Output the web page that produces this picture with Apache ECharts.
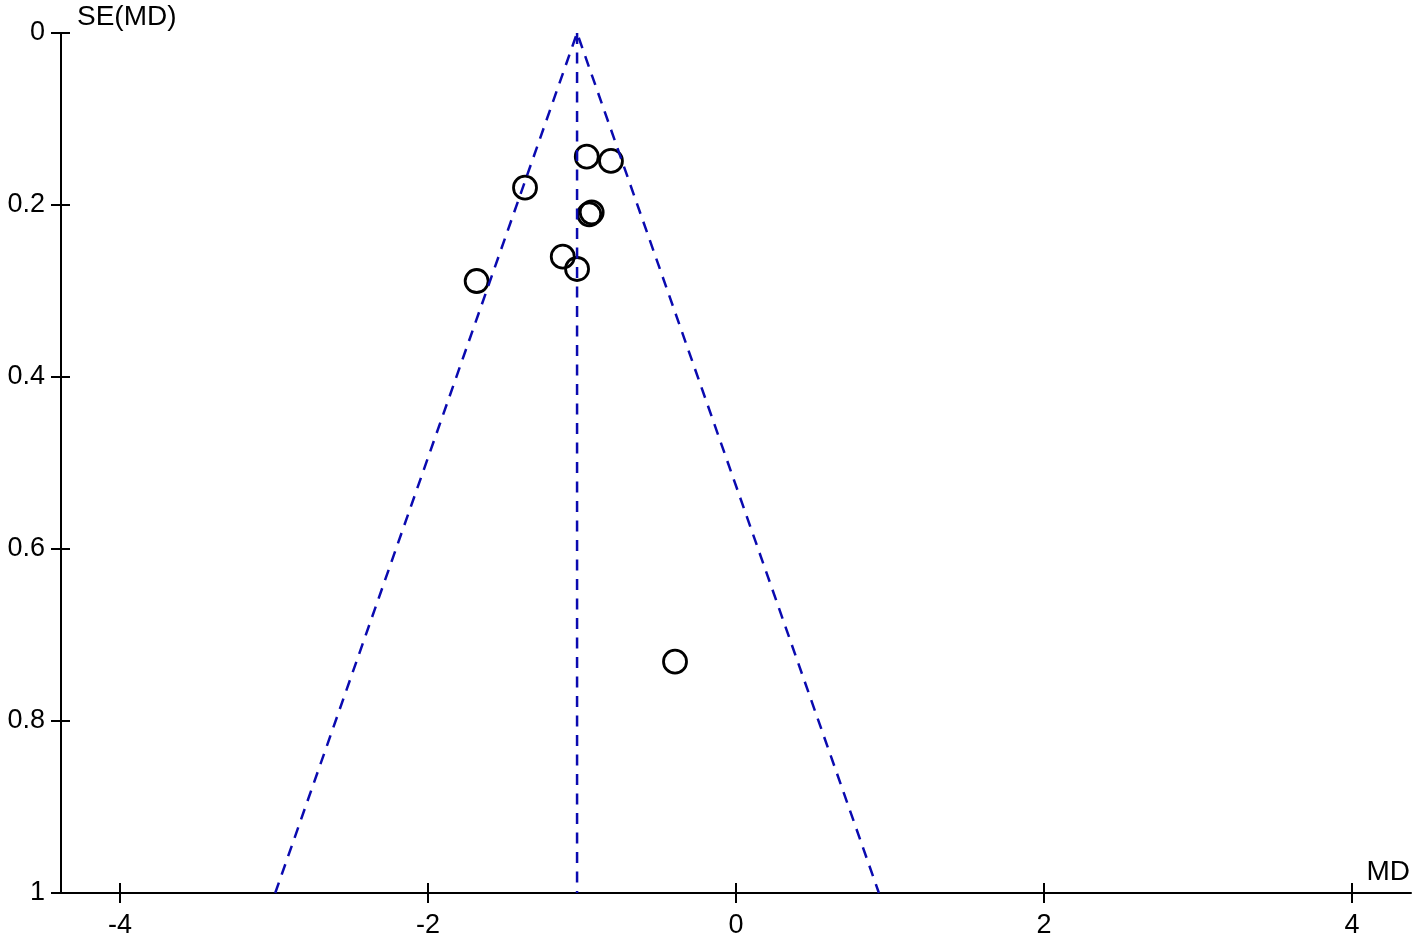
<!DOCTYPE html>
<html><head><meta charset="utf-8">
<script src="https://cdn.jsdelivr.net/npm/echarts@6/dist/echarts.min.js"></script>
<style>html,body{margin:0;padding:0;background:#fff}#c{width:1418px;height:940px}</style>
</head><body><div id="c"></div>
<script>
// Study points: mean difference (MD) and its standard error SE(MD)
const studyMD = [-0.969, -0.812, -1.370, -0.937, -0.953, -1.125, -1.032, -1.684, -0.396];
const studySE = [0.1438, 0.1488, 0.1799, 0.2085, 0.2108, 0.2601, 0.2744, 0.2884, 0.731];
// Pooled estimate and funnel limits (pooled ± 1.96·SE)
const pooledMD = -1.032;
const funnelMD = [-2.992, -1.032, 0.928];
const funnelSE = [1, 0, 1];
const centerMD = [-1.032, -1.032];
const centerSE = [0, 1];
const xTicks = [-4, -2, 0, 2, 4];
const yTicks = [0, 0.2, 0.4, 0.6, 0.8, 1];
const xRange = [-4.383, 4.383];
const yRange = [0, 1];

const font = 'Liberation Sans, Arial, sans-serif';
const blue = '#0a0ab0';
const chart = echarts.init(document.getElementById('c'));
const pts = studyMD.map((x, i) => [x, studySE[i]]);
const funnel = funnelMD.map((x, i) => [x, funnelSE[i]]);
const center = centerMD.map((x, i) => [x, centerSE[i]]);
const fmtY = v => String(Math.round(v * 10) / 10);

chart.setOption({
  animation: false,
  backgroundColor: '#fff',
  grid: { left: 61, right: 7, top: 33, bottom: 47, containLabel: false },
  xAxis: [
    { type: 'value', min: xRange[0], max: xRange[1], splitLine: { show: false },
      axisLine: { show: true, onZero: false, lineStyle: { color: '#000', width: 2 } },
      axisTick: { show: true, inside: false, length: 10, customValues: xTicks, lineStyle: { color: '#000', width: 2 } },
      axisLabel: { customValues: xTicks, margin: 19, fontSize: 27, color: '#000', fontFamily: font } },
    { type: 'value', position: 'bottom', min: xRange[0], max: xRange[1], splitLine: { show: false },
      axisLine: { show: false, onZero: false },
      axisTick: { show: true, inside: true, length: 10, customValues: xTicks, lineStyle: { color: '#000', width: 2 } },
      axisLabel: { show: false } }
  ],
  yAxis: [
    { type: 'value', inverse: true, min: yRange[0], max: yRange[1], splitLine: { show: false },
      axisLine: { show: true, onZero: false, lineStyle: { color: '#000', width: 2 } },
      axisTick: { show: true, inside: false, length: 10, customValues: yTicks, lineStyle: { color: '#000', width: 2 } },
      axisLabel: { customValues: yTicks, margin: 16, fontSize: 27, color: '#000', fontFamily: font, formatter: fmtY } },
    { type: 'value', position: 'left', inverse: true, min: yRange[0], max: yRange[1], splitLine: { show: false },
      axisLine: { show: false, onZero: false },
      axisTick: { show: true, inside: true, length: 9, customValues: yTicks, lineStyle: { color: '#000', width: 2 } },
      axisLabel: { show: false } }
  ],
  graphic: [
    { type: 'text', left: 77, top: 3, style: { text: 'SE(MD)', fontSize: 28, fill: '#000', fontFamily: font } },
    { type: 'text', right: 8, top: 858, style: { text: 'MD', fontSize: 28, fill: '#000', fontFamily: font } }
  ],
  series: [
    { type: 'line', data: funnel, symbol: 'none', silent: true,
      lineStyle: { color: blue, width: 2.5, type: [11, 8.5] } },
    { type: 'line', data: center, symbol: 'none', silent: true,
      lineStyle: { color: blue, width: 2.5, type: [11, 8.5] } },
    { type: 'scatter', data: pts, symbol: 'circle', symbolSize: 23,
      itemStyle: { color: 'rgba(255,255,255,0)', borderColor: '#000', borderWidth: 2.8, opacity: 1 } }
  ]
});
</script></body></html>
